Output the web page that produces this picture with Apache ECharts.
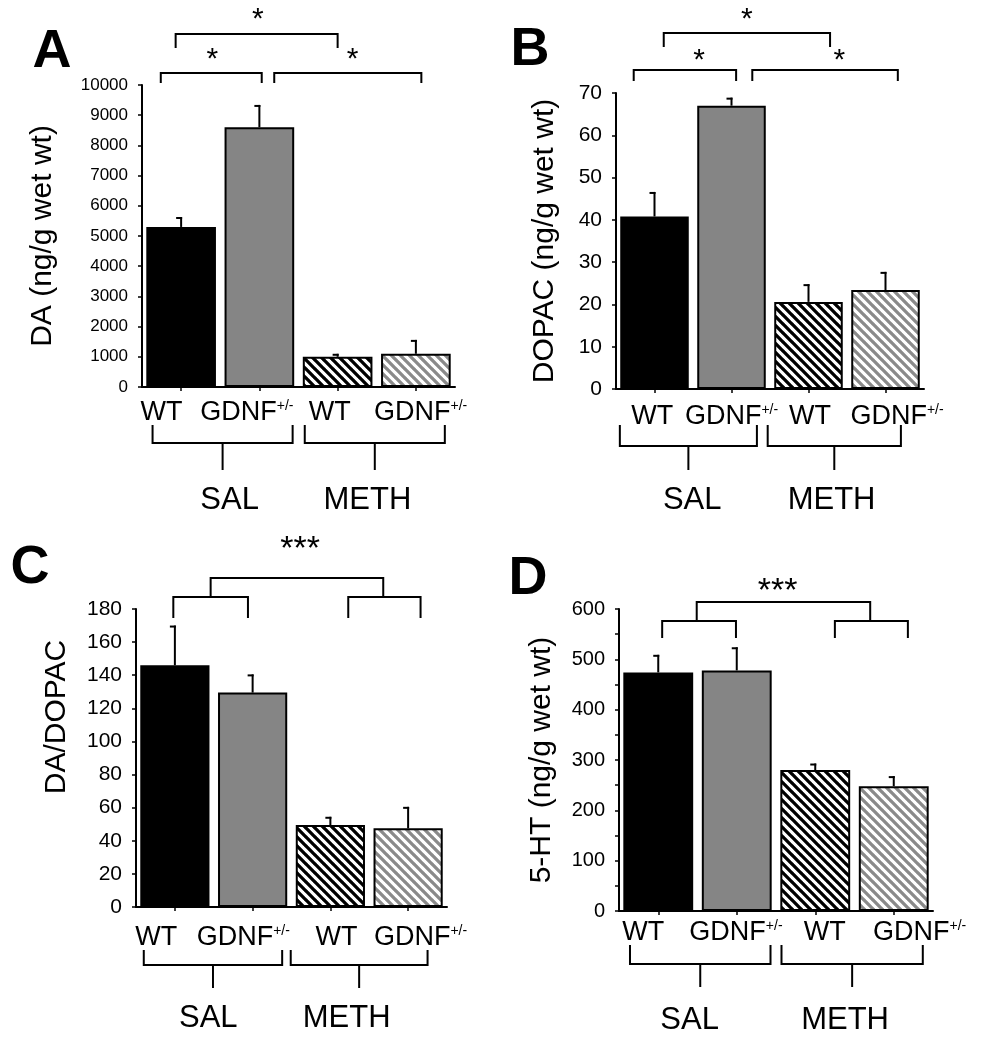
<!DOCTYPE html>
<html><head><meta charset="utf-8">
<script src="https://cdn.jsdelivr.net/npm/echarts@6/dist/echarts.min.js"></script>
<style>html,body{margin:0;padding:0;background:#fff}#c{width:981px;height:1050px}</style>
</head><body><div id="c"></div>
<script>
// ---------- data ----------
const categories = ['WT', 'GDNF+/-', 'WT', 'GDNF+/-'];
const groups = ['SAL', 'METH'];
const panelLetters = ['A', 'B', 'C', 'D'];
const daMean = [5300, 8600, 1000, 1100];
const daErr = [330, 740, 100, 460];
const dopacMean = [40.8, 67.0, 20.6, 23.4];
const dopacErr = [5.8, 1.9, 4.2, 4.3];
const ratioMean = [146, 129.5, 49.5, 47.5];
const ratioErr = [24, 11, 5, 13];
const htMean = [474, 478, 280, 248];
const htErr = [35, 46, 13, 20];
const daAxis = [0, 10000, 1000];
const dopacAxis = [0, 70, 10];
const ratioAxis = [0, 180, 20];
const htAxis = [0, 600, 100];
const sigA = ['*', '*', '*'];
const sigB = ['*', '*', '*'];
const sigC = ['***'];
const sigD = ['***'];

// ---------- style / layout ----------
const FONT = '"Liberation Sans", Arial, sans-serif';
function hatch(color) {
  const p = 9, c = document.createElement('canvas');
  c.width = c.height = p;
  const g = c.getContext('2d');
  g.fillStyle = '#fff'; g.fillRect(0, 0, p, p);
  g.strokeStyle = color; g.lineWidth = 3.3;
  g.beginPath();
  for (const o of [-p, 0, p]) { g.moveTo(o - 1, -1); g.lineTo(o + p + 1, p + 1); }
  g.stroke();
  return { image: c, repeat: 'repeat' };
}
const fills = ['#000000', '#858585', hatch('#000000'), hatch('#8a8a8a')];

const layouts = [
  { grid: { left: 142, top: 85, width: 313, height: 302 }, nameGap: 84, namePad: 0, tickFont: 17,
    labels: [-0.25, 0.84, 1.90, 3.06], labelDy: 26,
    groupBr: [[-0.365, 1.425], [1.58, 3.37]], brY: 56, brEnd: 38, stemEnd: 83,
    groupText: [0.62, 2.38], groupDy: 113,
    brackets: [[-0.26, 1.03, -12, 10], [1.19, 3.07, -12, 10], [-0.07, 2.0, -51, 14]],
    stars: [[0.40, -32], [2.19, -32], [0.98, -72]], letter: [52, 52] },
  { grid: { left: 616, top: 93, width: 308, height: 296 }, nameGap: 56, namePad: 0, tickFont: 21,
    labels: [-0.03, 1.0, 2.02, 3.15], labelDy: 28,
    groupBr: [[-0.45, 1.33], [1.47, 3.2]], brY: 57, brEnd: 36, stemEnd: 81,
    groupText: [0.49, 2.3], groupDy: 111,
    brackets: [[-0.27, 1.06, -23, 11], [1.27, 3.16, -23, 11], [0.12, 2.28, -60, 14]],
    stars: [[0.58, -39], [2.40, -39], [1.20, -80]], letter: [530, 50] },
  { grid: { left: 136, top: 609, width: 311, height: 298 }, nameGap: 64, namePad: 82, tickFont: 21,
    labels: [-0.24, 0.88, 2.08, 3.16], labelDy: 31,
    groupBr: [[-0.40, 1.38], [1.49, 3.25]], brY: 58, brEnd: 43, stemEnd: 81,
    groupText: [0.43, 2.21], groupDy: 111,
    brackets: [[-0.02, 0.94, -12, 21], [2.23, 3.16, -12, 21], [0.46, 2.68, -31, 19]],
    stars: [[1.61, -66]], letter: [30, 568] },
  { grid: { left: 619, top: 609, width: 314, height: 302 }, nameGap: 62, namePad: 0, tickFont: 20,
    labels: [-0.19, 0.99, 2.12, 3.33], labelDy: 22,
    groupBr: [[-0.36, 1.43], [1.57, 3.37]], brY: 53, brEnd: 34, stemEnd: 76,
    groupText: [0.40, 2.38], groupDy: 109,
    brackets: [[0.05, 0.99, 12, 17], [2.25, 3.18, 12, 17], [0.49, 2.70, -7, 19]],
    stars: [[1.52, -24]], letter: [528, 579] }
];

const panels = [
  { mean: daMean, err: daErr, axis: daAxis, name: 'DA (ng/g wet wt)', sig: sigA, minor: false },
  { mean: dopacMean, err: dopacErr, axis: dopacAxis, name: 'DOPAC (ng/g wet wt)', sig: sigB, minor: false },
  { mean: ratioMean, err: ratioErr, axis: ratioAxis, name: 'DA/DOPAC', sig: sigC, minor: false },
  { mean: htMean, err: htErr, axis: htAxis, name: '5-HT (ng/g wet wt)', sig: sigD, minor: true }
];

function labelText(s) {
  const m = s.match(/^(.*?)(\+\/-)?$/);
  return m[2] ? '{m|' + m[1] + '}{s|' + m[2] + '}' : '{m|' + m[1] + '}';
}

function errRender(params, api) {
  const top = api.coord([api.value(0), api.value(1) + api.value(2)]);
  const bot = api.coord([api.value(0), api.value(1)]);
  return { type: 'group', children: [
    { type: 'line', shape: { x1: bot[0], y1: bot[1], x2: top[0], y2: top[1] }, style: { stroke: '#000', lineWidth: 2 } },
    { type: 'line', shape: { x1: top[0] - 5, y1: top[1] + 1, x2: top[0] + 1, y2: top[1] + 1 }, style: { stroke: '#000', lineWidth: 2 } }
  ] };
}

function annotRender(L, P) {
  return function (params, api) {
    const c0 = api.coord([0, 0]);
    const cw = api.size([1, 0])[0];
    const base = c0[1];
    const top = api.coord([0, P.axis[1]])[1];
    const X = u => c0[0] + u * cw;
    const ch = [];
    const poly = pts => ch.push({ type: 'polyline', shape: { points: pts }, style: { stroke: '#000', lineWidth: 2, fill: null } });
    L.labels.forEach((u, i) => ch.push({ type: 'text', x: X(u), y: base + L.labelDy, style: {
      text: labelText(categories[i]), align: 'center', verticalAlign: 'middle', fill: '#000',
      rich: { m: { fontSize: 27, fontFamily: FONT, fill: '#000' }, s: { fontSize: 14, fontFamily: FONT, fill: '#000', verticalAlign: 'top', padding: [0, 0, 12, 0] } } } }));
    L.groupBr.forEach((b, i) => {
      const x1 = X(b[0]), x2 = X(b[1]), xc = (x1 + x2) / 2;
      poly([[x1, base + L.brEnd], [x1, base + L.brY], [x2, base + L.brY], [x2, base + L.brEnd]]);
      poly([[xc, base + L.brY], [xc, base + L.stemEnd]]);
      ch.push({ type: 'text', x: X(L.groupText[i]), y: base + L.groupDy, style: { text: groups[i], fontSize: 31, fontFamily: FONT, fill: '#000', align: 'center', verticalAlign: 'middle' } });
    });
    L.brackets.forEach(b => {
      const x1 = X(b[0]), x2 = X(b[1]), y = top + b[2], d = b[3];
      poly([[x1, y + d], [x1, y], [x2, y], [x2, y + d]]);
    });
    L.stars.forEach((s, i) => ch.push({ type: 'text', x: X(s[0]), y: top + s[1] + 7, style: {
      text: P.sig[i], fontSize: P.sig[i].length > 1 ? 34 : 30, fontFamily: FONT, fill: '#000', align: 'center', verticalAlign: 'middle' } }));
    return { type: 'group', children: ch };
  };
}

const option = {
  animation: false,
  backgroundColor: '#fff',
  grid: layouts.map(L => Object.assign({ containLabel: false }, L.grid)),
  xAxis: panels.map((P, k) => ({
    type: 'category', gridIndex: k, data: categories,
    axisLine: { lineStyle: { color: '#000', width: 2 } },
    axisTick: { show: true, alignWithLabel: true, length: 4, lineStyle: { color: '#000', width: 1.5 } },
    axisLabel: { show: false }, splitLine: { show: false }
  })),
  yAxis: panels.map((P, k) => ({
    type: 'value', gridIndex: k, min: P.axis[0], max: P.axis[1], interval: P.axis[2],
    axisLine: { show: true, lineStyle: { color: '#000', width: 2 } },
    axisTick: { show: true, length: 4, lineStyle: { color: '#000', width: 1.5 } },
    minorTick: { show: P.minor, splitNumber: 2, length: 4, lineStyle: { color: '#000', width: 1.5 } },
    splitLine: { show: false },
    axisLabel: { color: '#000', fontSize: layouts[k].tickFont, fontFamily: FONT, margin: 14, padding: [10, 0, 0, 0],
      formatter: v => String(v), hideOverlap: false, showMinLabel: true, showMaxLabel: true },
    name: P.name, nameLocation: 'middle', nameRotate: 90, nameGap: layouts[k].nameGap,
    nameTextStyle: { fontSize: 30, color: '#000', fontFamily: FONT, padding: [0, 0, 0, layouts[k].namePad] }
  })),
  series: panels.flatMap((P, k) => [
    { type: 'bar', xAxisIndex: k, yAxisIndex: k, barCategoryGap: '11%',
      data: P.mean.map((v, i) => ({ value: v, itemStyle: { color: fills[i] } })),
      itemStyle: { borderColor: '#000', borderWidth: 2 }, silent: true },
    { type: 'custom', xAxisIndex: k, yAxisIndex: k, renderItem: errRender, silent: true, z: 5,
      data: P.mean.map((v, i) => [i, v, P.err[i]]) },
    { type: 'custom', xAxisIndex: k, yAxisIndex: k, renderItem: annotRender(layouts[k], P), silent: true, clip: false, z: 6,
      data: [[0, 0]] }
  ]),
  graphic: panelLetters.map((t, k) => ({ type: 'text', x: layouts[k].letter[0], y: layouts[k].letter[1],
    style: { text: t, fontSize: 54, fontWeight: 'bold', fontFamily: FONT, fill: '#000', align: 'center', verticalAlign: 'middle' } }))
};
const chart = echarts.init(document.getElementById('c'));
chart.setOption(option);
</script></body></html>
